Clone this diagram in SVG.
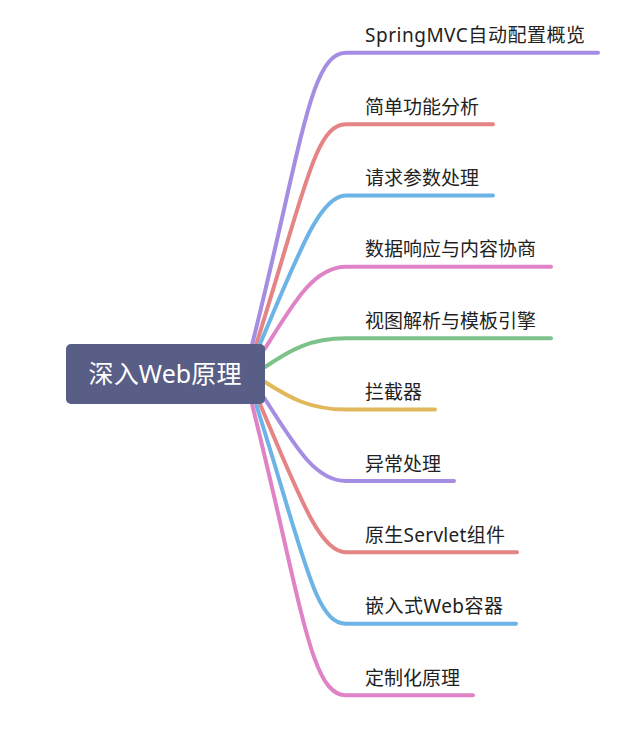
<svg xmlns="http://www.w3.org/2000/svg" width="634" height="732" viewBox="0 0 634 732">
<style>
.c{fill:none;stroke-width:4;stroke-linecap:round;stroke-linejoin:round}
.t{font-family:"Noto Sans","Noto Sans CJK SC",sans-serif;font-size:19px;fill:#222}
.purple{stroke:#a48de2}
.red{stroke:#e58484}
.blue{stroke:#6cb3e6}
.pink{stroke:#df83c6}
.green{stroke:#7dc28a}
.yellow{stroke:#e1b85b}
</style>
<rect width="634" height="732" fill="#ffffff"/>
<g id="connectors">
<path class="c purple" d="M250 360 L252 345 C302 145 310 52.7 346 52.7 L598 52.7"/>
<path class="c red" d="M252 360 L256 345 C305 190 315 124.3 346 124.3 L493 124.3"/>
<path class="c blue" d="M254 360 L260 344 C300 250 320 195.5 346 195.5 L493 195.5"/>
<path class="c pink" d="M256 360 L266 347 C295 300 315 266.7 346 266.7 L551 266.7"/>
<path class="c green" d="M258 370 L265 367 C290 350 310 338.3 346 338.3 L551 338.3"/>
<path class="c yellow" d="M258 379 L265 382 C290 398 310 409.5 346 409.5 L435 409.5"/>
<path class="c purple" d="M256 388 L265 399 C295 446 315 481 346 481 L454 481"/>
<path class="c red" d="M254 390 L260 404 C300 498 320 552.3 346 552.3 L517 552.3"/>
<path class="c blue" d="M252 390 L256 404 C305 559 315 623.7 346 623.7 L516 623.7"/>
<path class="c pink" d="M250 390 L252 404 C302 604 310 695.3 346 695.3 L473 695.3"/>
</g>
<g id="root">
<rect x="66" y="344" width="199" height="60" rx="5" fill="#595e86"/>
<text x="88.5" y="383" textLength="153" lengthAdjust="spacing" font-family="Noto Sans, Noto Sans CJK SC, sans-serif" font-size="25" fill="#ffffff">深入Web原理</text>
</g>
<g id="n1"><text class="t" x="365" y="42" textLength="220" lengthAdjust="spacing">SpringMVC自动配置概览</text></g>
<g id="n2"><text class="t" x="365" y="113.5">简单功能分析</text></g>
<g id="n3"><text class="t" x="365" y="185">请求参数处理</text></g>
<g id="n4"><text class="t" x="365" y="256">数据响应与内容协商</text></g>
<g id="n5"><text class="t" x="365" y="327.5">视图解析与模板引擎</text></g>
<g id="n6"><text class="t" x="365" y="399">拦截器</text></g>
<g id="n7"><text class="t" x="365" y="470.5">异常处理</text></g>
<g id="n8"><text class="t" x="365" y="541.5" textLength="140" lengthAdjust="spacing">原生Servlet组件</text></g>
<g id="n9"><text class="t" x="365" y="613" textLength="138" lengthAdjust="spacing">嵌入式Web容器</text></g>
<g id="n10"><text class="t" x="365" y="684.5">定制化原理</text></g>
</svg>
